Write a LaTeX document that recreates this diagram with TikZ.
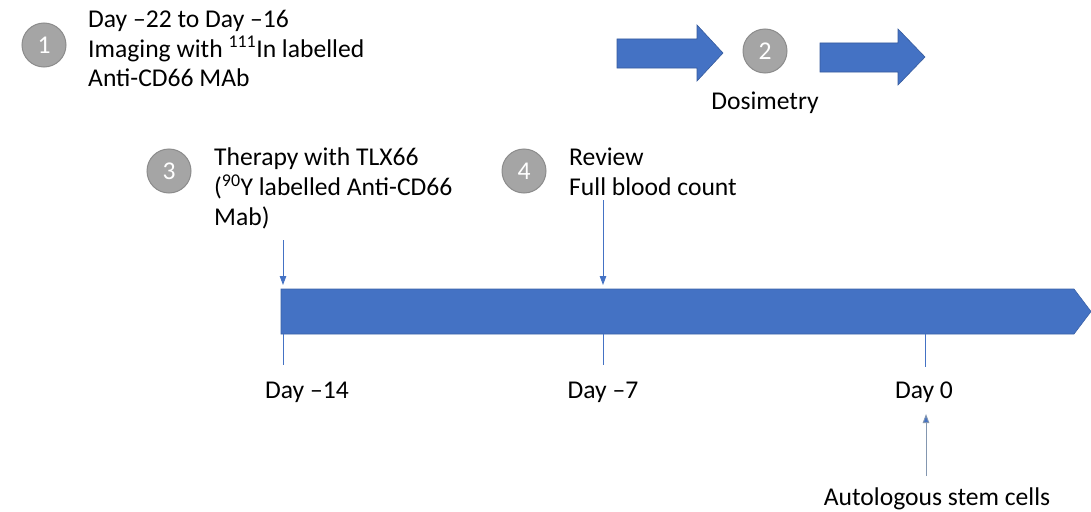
\documentclass[tikz,border=0pt]{standalone}
\usepackage{fontspec}
\setmainfont{Carlito}
\usetikzlibrary{arrows.meta}
\definecolor{pblue}{HTML}{4472C4}
\definecolor{cgray}{HTML}{A5A5A5}
\definecolor{cgrayd}{HTML}{8C8C8C}
\definecolor{lblue}{HTML}{8497B0}
\tikzset{
  numcirc/.style={circle,fill=cgray,draw=cgrayd,line width=1pt,minimum size=44pt,inner sep=0pt,text=white,font=\fontsize{25.6}{30}\selectfont},
  txt/.style={anchor=base west,inner sep=0pt,font=\fontsize{25.6}{30}\selectfont},
  ctxt/.style={anchor=base,inner sep=0pt,font=\fontsize{25.6}{30}\selectfont},
  tick/.style={draw=pblue,line width=0.9pt},
  tickarrow/.style={draw=pblue,line width=0.9pt,-{Triangle[width=6.5pt,length=9pt]},shorten >=0pt},
  blockarrow/.style={fill=pblue,draw=pblue!80!black,line width=0.6pt}
}
\begin{document}
\begin{tikzpicture}[x=1pt,y=-1pt]
\useasboundingbox (0,0) rectangle (1091,511);
% step 1
\node[numcirc] (c1) at (44,45) {1};
\node[txt] (t1a) at (88,27.5) {Day \textendash22 to Day \textendash16};
\node[txt] (t1b) at (88,57) {Imaging with \textsuperscript{111}In labelled};
\node[txt] (t1c) at (88,86.5) {Anti-CD66 MAb};
% block arrows and step 2
\draw[blockarrow] (617,39) -- (697,39) -- (697,25) -- (723,53) -- (697,81) -- (697,68) -- (617,68) -- cycle;
\node[numcirc] (c2) at (765,51) {2};
\draw[blockarrow] (820,43) -- (898,43) -- (898,29) -- (925,57) -- (898,85) -- (898,72) -- (820,72) -- cycle;
\node[ctxt] (dos) at (765,109) {Dosimetry};
% step 3
\node[numcirc] (c3) at (169,171) {3};
\node[txt] (t3a) at (214,165.5) {Therapy with TLX66};
\node[txt] (t3b) at (214,195.5) {(\textsuperscript{90}Y labelled Anti-CD66};
\node[txt] (t3c) at (214,225) {Mab)};
% step 4
\node[numcirc] (c4) at (524,171) {4};
\node[txt] (t4a) at (569,165.5) {Review};
\node[txt] (t4b) at (569,195.5) {Full blood count};
% main bar
\draw[fill=pblue,draw=pblue!85!black,line width=0.6pt] (281,289) -- (1074,289) -- (1091,311.5) -- (1074,334) -- (281,334) -- cycle;
% ticks
\coordinate (a1s) at (283,240); \coordinate (a1e) at (283,285);
\coordinate (a2s) at (603,200); \coordinate (a2e) at (603,285);
\draw[tickarrow] (a1s) -- (a1e);
\draw[tickarrow] (a2s) -- (a2e);
\coordinate (b1s) at (283,334); \coordinate (b1e) at (283,365);
\coordinate (b2s) at (603,334); \coordinate (b2e) at (603,365);
\coordinate (b3s) at (925,334); \coordinate (b3e) at (925,367);
\draw[tick] (b1s) -- (b1e);
\draw[tick] (b2s) -- (b2e);
\draw[tick] (b3s) -- (b3e);
% day labels
\node[ctxt] (d14) at (307,398.5) {Day \textendash14};
\node[ctxt] (d7) at (603,398.5) {Day \textendash7};
\node[ctxt] (d0) at (924,398.5) {Day 0};
\node[ctxt] (asc) at (937,505) {Autologous stem cells};
\coordinate (upS) at (926,476);
\coordinate (upE) at (926,414);
\draw[draw=lblue,line width=0.9pt,-{Triangle[width=6.5pt,length=9pt,fill=pblue]}] (upS) -- (upE);
\end{tikzpicture}
\end{document}
